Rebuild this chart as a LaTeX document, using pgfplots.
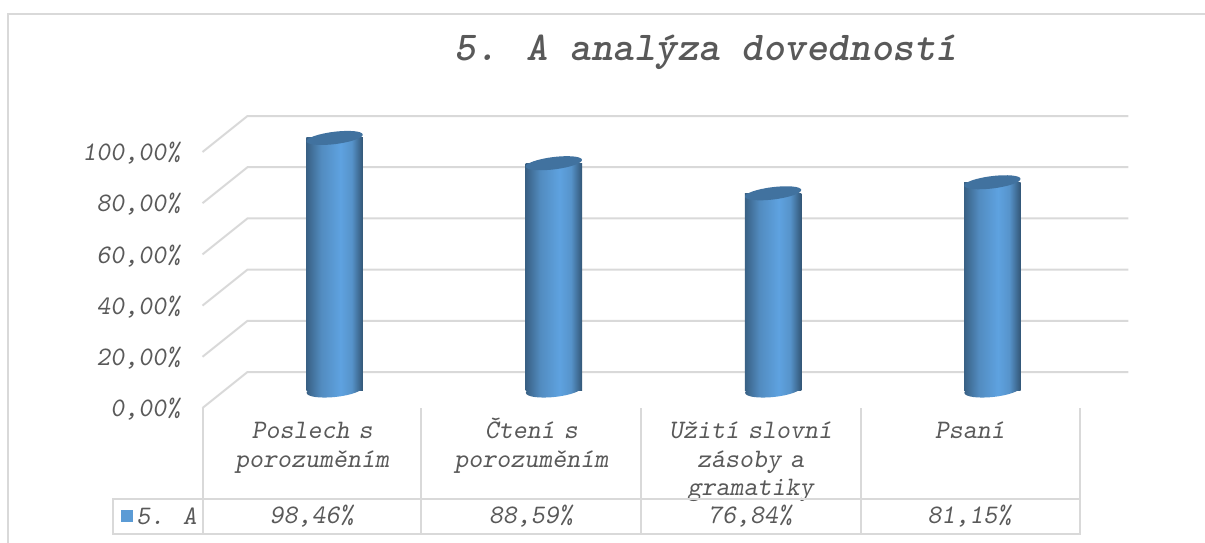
\documentclass[border=0pt]{standalone}
\usepackage{fontspec}
\usepackage{pgfplots}
\pgfplotsset{compat=1.18}
\usetikzlibrary{shapes.geometric}

\definecolor{txt}{HTML}{595959}
\definecolor{gridc}{HTML}{D9D9D9}
\definecolor{barc}{HTML}{5B9BD5}
\definecolor{midc}{HTML}{5EA2E0}
\definecolor{topc}{HTML}{41729F}

% cylinder side: dark edges, light middle
\pgfdeclarehorizontalshading{cyl}{100bp}{
  color(0bp)=(barc!55!black);
  color(25bp)=(barc!62!black);
  color(38bp)=(barc!90!black);
  color(55bp)=(midc);
  color(65bp)=(barc!95!black);
  color(75bp)=(barc!55!black);
  color(100bp)=(barc!55!black)
}

% 1 px of the reference = 0.6pt
\tikzset{px/.style={x=0.6pt,y=-0.6pt}}
\newcommand{\lab}{\fontsize{16}{17}\selectfont\ttfamily\slshape}
\newcommand{\fl}{\vphantom{Č}}

\begin{document}
\begin{tikzpicture}
\path[use as bounding box] (0,0) rectangle (723pt,-325.8pt);

\begin{axis}[
    at={(135pt,-234pt)},
    anchor=south west,
    scale only axis,
    width=526.2pt,
    height=153.6pt,
    xmin=-0.5, xmax=3.5,
    ymin=0, ymax=100,
    clip=false,
    axis line style={draw=none},
    major tick style={draw=none},
    xtick={0,1,2,3},
    xticklabels={{\fl Poslech s\\porozuměním},{\fl Čtení s\\porozuměním},{\fl Užití slovní\\zásoby a\\gramatiky},{\fl Psaní}},
    xticklabel style={anchor=north, align=center, text width=126pt, xshift=-13.5pt, yshift=-13.4pt,
        text=txt, font=\lab},
    ytick={0,20,40,60,80,100},
    yticklabels={{0,00\%},{20,00\%},{40,00\%},{60,00\%},{80,00\%},{100,00\%}},
    yticklabel style={anchor=east, xshift=-23.3pt, yshift=-11.6pt,
        text=txt, font=\lab},
]

% walls: front edge to back plane, then along the back
\addplot[gridc, line width=1.2pt, forget plot] coordinates {(-0.6026,-7.03) (-0.3974,7.03) (3.62,7.03)};
\addplot[gridc, line width=1.2pt, forget plot] coordinates {(-0.6026,12.97) (-0.3974,27.03) (3.62,27.03)};
\addplot[gridc, line width=1.2pt, forget plot] coordinates {(-0.6026,32.97) (-0.3974,47.03) (3.62,47.03)};
\addplot[gridc, line width=1.2pt, forget plot] coordinates {(-0.6026,52.97) (-0.3974,67.03) (3.62,67.03)};
\addplot[gridc, line width=1.2pt, forget plot] coordinates {(-0.6026,72.97) (-0.3974,87.03) (3.62,87.03)};
\addplot[gridc, line width=1.2pt, forget plot] coordinates {(-0.6026,92.97) (-0.3974,107.03) (3.62,107.03)};

% cylinder bodies, one plot each so each gets its own shading
\addplot[ybar, bar width=34pt, draw=none, shading=cyl, forget plot] coordinates {(0,98.46)};
\addplot[ybar, bar width=34pt, draw=none, shading=cyl, forget plot] coordinates {(1,88.59)};
\addplot[ybar, bar width=34pt, draw=none, shading=cyl, forget plot] coordinates {(2,76.84)};
\addplot[ybar, bar width=34pt, draw=none, shading=cyl, forget plot] coordinates {(3,81.15)};

% cylinder feet
\addplot[only marks, mark=none, forget plot, point meta=y,
    nodes near coords={},
    every node near coord/.style={ellipse, draw=none, shading=cyl, anchor=center,
        minimum width=33.8pt, minimum height=8.4pt, inner sep=0pt, rotate=6}]
    coordinates {(0,0) (1,0) (2,0) (3,0)};

% cylinder tops
\addplot[only marks, mark=none, forget plot, point meta=y,
    nodes near coords={},
    every node near coord/.style={ellipse, draw=none, fill=topc, anchor=center,
        minimum width=34pt, minimum height=7.4pt, inner sep=0pt, rotate=7}]
    coordinates {(0,98.46) (1,88.59) (2,76.84) (3,81.15)};

% data table row
\node[text=txt, font=\lab] at (axis cs:-0.105,-49.2) {98,46\%};
\node[text=txt, font=\lab] at (axis cs:0.895,-49.2) {88,59\%};
\node[text=txt, font=\lab] at (axis cs:1.895,-49.2) {76,84\%};
\node[text=txt, font=\lab] at (axis cs:2.895,-49.2) {81,15\%};
\end{axis}

\begin{scope}[px]
% chart frame
\draw[gridc, line width=1.2pt] (8,543) -- (8,14) -- (1205,14);
% data table grid
\draw[gridc, line width=1.1pt] (113,499) rectangle (1080,534);
\draw[gridc, line width=1.1pt] (203,408) -- (203,534);
\draw[gridc, line width=1.1pt] (421,408) -- (421,534);
\draw[gridc, line width=1.1pt] (641,408) -- (641,534);
\draw[gridc, line width=1.1pt] (861,408) -- (861,534);
\draw[gridc, line width=1.1pt] (1080,408) -- (1080,534);
% legend key
\fill[barc] (121,510) rectangle (133,522);
\node[anchor=west, inner sep=0pt, text=txt, font=\lab] at (136,516) {5. A};
% title
\node[text=txt, font=\fontsize{24.6}{26}\selectfont\ttfamily\bfseries\slshape] at (706,52) {5. A analýza dovedností};
\end{scope}
\end{tikzpicture}
\end{document}
